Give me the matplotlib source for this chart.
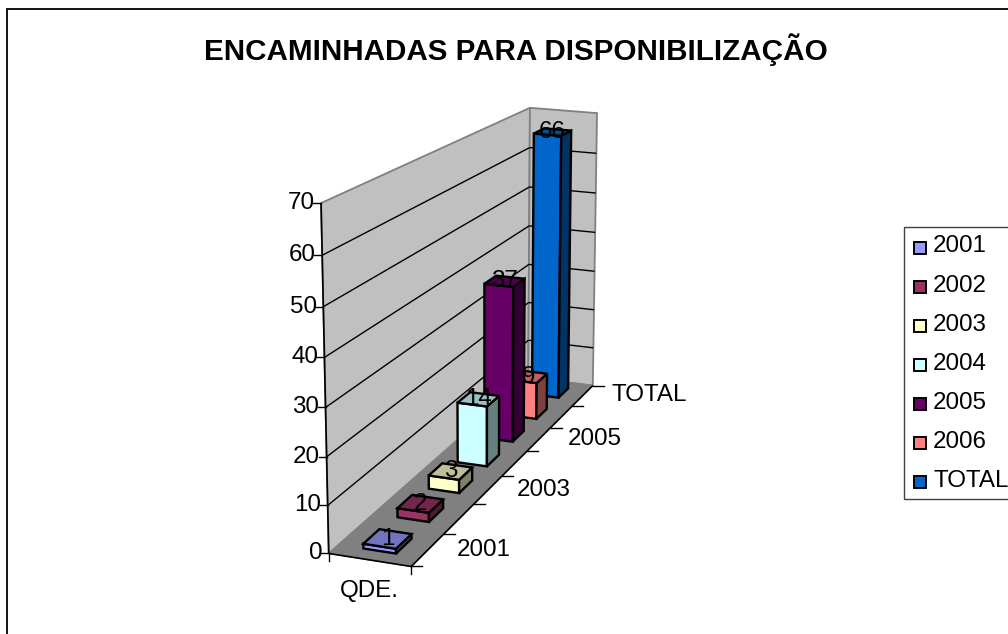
import numpy as np
import matplotlib
matplotlib.use("Agg")
import matplotlib.pyplot as plt
from matplotlib.patches import Polygon, Rectangle

categories = ["2001", "2002", "2003", "2004", "2005", "2006", "TOTAL"]
values = [1, 2, 3, 14, 37, 9, 66]
colors = ["#9999FF", "#993366", "#FFFFCC", "#CCFFFF", "#660066", "#FF8080", "#0066CC"]
z_ticks = [0, 10, 20, 30, 40, 50, 60, 70]
depth_labels = ["2001", "2003", "2005", "TOTAL"]
series_label = "QDE."
title = "ENCAMINHADAS PARA DISPONIBILIZAÇÃO"

plt.rcParams["font.family"] = ["Liberation Sans", "DejaVu Sans"]
W, H = 1008, 634
FS = 17.4
fig = plt.figure(figsize=(W / 100, H / 100), dpi=100)
ax = fig.add_axes([0, 0, 1, 1])
ax.set_xlim(0, W)
ax.set_ylim(H, 0)
ax.axis("off")

# camera calibration: scene corner (x, depth, z) -> picture position
scene = np.array([[0, 0, 0], [0, 0, 70], [1, 0, 0], [1, 7, 0], [0, 7, 0], [0, 7, 70], [1, 7, 70]], float)
pict = np.array([[329, 554], [321, 203], [411, 566], [593, 386], [528, 377], [530, 108], [597, 113]], float)
rows = []
for (a, b, c), (u, v) in zip(scene, pict):
    rows.append([a, b, c, 1, 0, 0, 0, 0, -u * a, -u * b, -u * c, -u])
    rows.append([0, 0, 0, 0, a, b, c, 1, -v * a, -v * b, -v * c, -v])
P = np.linalg.svd(np.array(rows))[2][-1].reshape(3, 4)


def pj(x, d, z):
    h = P @ np.array([x, d, z, 1.0])
    return h[0] / h[2], h[1] / h[2]


def shade(c, f):
    r = matplotlib.colors.to_rgb(c)
    return tuple(v * f for v in r)


def face(pts, fc, ec="black", lw=1.7, z=1):
    ax.add_patch(Polygon([pj(*p) for p in pts], closed=True, fc=fc, ec=ec, lw=lw, joinstyle="miter", zorder=z))


def seg(p, q, c="black", lw=1.0, z=2):
    a, b = pj(*p), pj(*q)
    ax.plot([a[0], b[0]], [a[1], b[1]], color=c, lw=lw, zorder=z, solid_capstyle="butt")


D = len(categories)
ZM = z_ticks[-1]
# chart frame
ax.add_patch(Rectangle((7, 8.5), 1100, 700, fc="white", ec="black", lw=1.3, zorder=0))
# walls and floor
face([(0, 0, 0), (0, D, 0), (0, D, ZM), (0, 0, ZM)], "#C0C0C0", "#808080", 1.3, 1)
face([(0, D, 0), (1, D, 0), (1, D, ZM), (0, D, ZM)], "#C0C0C0", "#808080", 1.3, 1)
face([(0, 0, 0), (1, 0, 0), (1, D, 0), (0, D, 0)], "#808080", "#808080", 1.0, 1)
for zt in z_ticks[1:-1]:
    seg((0, 0, zt), (0, D, zt), lw=1.0)
    seg((0, D, zt), (1, D, zt), lw=1.0)
# axes lines and ticks
seg((0, 0, 0), (0, 0, ZM), lw=1.2, z=3)
seg((0, 0, 0), (1, 0, 0), lw=1.2, z=3)
seg((1, 0, 0), (1, D, 0), lw=1.2, z=3)
for zt in z_ticks:
    u, v = pj(0, 0, zt)
    ax.plot([u - 8, u], [v, v], color="black", lw=1.0, zorder=3)
    ax.text(u - 6.5, v, str(zt), ha="right", va="center", fontsize=FS, color="black", zorder=6)
for i in range(D + 1):
    u, v = pj(1, i, 0)
    ax.plot([u, u + 11], [v, v], color="black", lw=1.0, zorder=3)
for xe in (0, 1):
    u, v = pj(xe, 0, 0)
    ax.plot([u, u], [v, v + 8], color="black", lw=1.0, zorder=3)
for k, lab in enumerate(depth_labels):
    u, v = pj(1, 2 * k + 0.5, 0)
    ax.text(u + 29, v, lab, ha="left", va="center", fontsize=FS, color="black", zorder=6)
u, v = pj(0.5, 0, 0)
ax.text(u, v + 31, series_label, ha="center", va="center", fontsize=FS, color="black", zorder=6)

# bars, back to front
x0, x1 = 0.305, 0.705
gap = 0.27
for i in range(D - 1, -1, -1):
    val, col = values[i], colors[i]
    d0, d1 = i + gap, i + 1 - gap
    zo = 10 + (D - i)
    face([(x0, d0, 0), (x1, d0, 0), (x1, d0, val), (x0, d0, val)], col, z=zo)
    face([(x1, d0, 0), (x1, d1, 0), (x1, d1, val), (x1, d0, val)], shade(col, 0.5), z=zo)
    face([(x0, d0, val), (x1, d0, val), (x1, d1, val), (x0, d1, val)], shade(col, 0.75), z=zo)
    u, v = pj((x0 + x1) / 2, i + 0.5, val)
    ax.text(u, v, str(val), ha="center", va="center", fontsize=FS, color="black", zorder=40)

# title
ax.text(516, 50, title, ha="center", va="center", fontsize=21.3, fontweight="bold", color="black", zorder=6)

# legend
ax.add_patch(Rectangle((903.5, 226.5), 130, 272, fc="white", ec="#404040", lw=1.0, zorder=5))
for i, (lab, col) in enumerate(zip(categories, colors)):
    y = 247.5 + i * 39.1
    ax.add_patch(Rectangle((913.5, y - 6), 12, 12, fc=col, ec="black", lw=1.4, zorder=6))
    ax.text(933, y - 1, lab, ha="left", va="center", fontsize=FS, color="black", zorder=6)

fig.savefig("out.png", dpi=100)
